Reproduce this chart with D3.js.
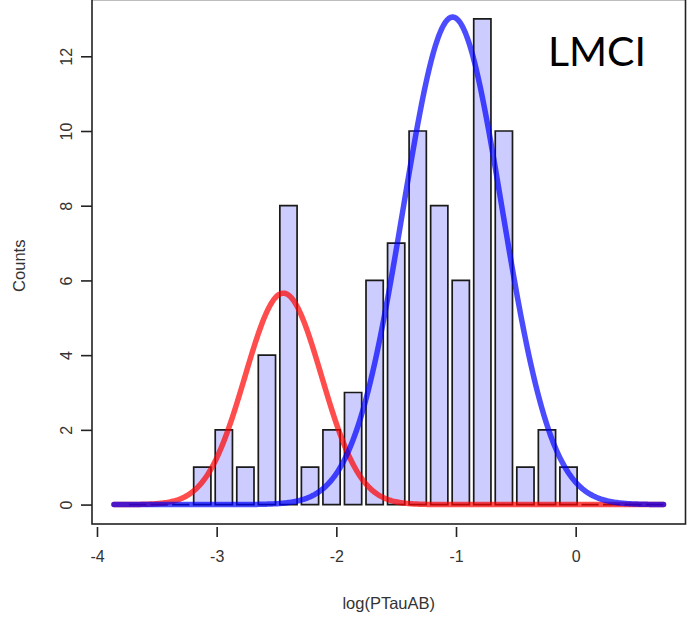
<!DOCTYPE html>
<html>
<head>
<meta charset="utf-8">
<script src="https://cdn.jsdelivr.net/npm/d3@7"></script>
<style>
  html, body { margin: 0; padding: 0; background: #fff; }
  svg { display: block; }
</style>
</head>
<body>
<svg id="chart" width="696" height="627"></svg>
<script>
// Histogram bins of log(PTauAB): bin centres and counts
const binCenters = [-3.66, -3.48, -3.30, -3.12, -2.94, -2.76, -2.58, -2.40, -2.22,
                    -2.04, -1.86, -1.68, -1.50, -1.32, -1.14, -0.96, -0.78, -0.60,
                    -0.42, -0.24, -0.06, 0.12, 0.30, 0.48, 0.66];
const binCounts  = [0, 0, 0, 1, 2, 1, 4, 8, 1,
                    2, 3, 6, 7, 10, 8, 6, 13, 10,
                    1, 2, 1, 0, 0, 0, 0];
const binWidth = 0.18;

// Fitted Gaussian mixture components (scaled to counts)
const componentNames  = ["low", "high"];
const componentMeans  = [-2.443, -1.028];
const componentSDs    = [0.32, 0.414];
const componentPeaks  = [5.66, 13.05];
const componentColors = ["rgba(255,0,0,0.7)", "rgba(0,0,255,0.7)"];

// Data range of the sample (curves are drawn over it)
const dataRange = [-3.858, 0.734];

// Axis ticks
const xTicks = [-4, -3, -2, -1, 0];
const yTicks = [0, 2, 4, 6, 8, 10, 12];

const groupLabel = "LMCI";
const xTitle = "log(PTauAB)";
const yTitle = "Counts";

const svg = d3.select("#chart");
const plot = { left: 92, right: 685.5, top: -0.5, bottom: 524 };
const labelFont = "'Liberation Sans', Arial, sans-serif";

// R-style 4% padding on both axes
const xPad = (dataRange[1] - dataRange[0]) * 0.04;
const x = d3.scaleLinear()
  .domain([dataRange[0] - xPad, dataRange[1] + xPad])
  .range([plot.left, plot.right]);
const yMax = d3.max(binCounts);
const y = d3.scaleLinear()
  .domain([-yMax * 0.04, yMax * 1.04])
  .range([plot.bottom, plot.top]);

// Bars (drawn as closed paths so empty bins still show their outline)
const barW = binWidth * 0.8;
svg.append("g")
  .selectAll("path")
  .data(binCenters.map((c, i) => ({ c, n: binCounts[i] })))
  .join("path")
  .attr("d", d => {
    const x0 = x(d.c - barW / 2), x1 = x(d.c + barW / 2);
    const y0 = y(0), y1 = y(d.n);
    return `M${x0},${y0}V${y1}H${x1}V${y0}Z`;
  })
  .attr("fill", "#ccccff")
  .attr("stroke", "#1a1a1a")
  .attr("stroke-width", 1.7);

// Mixture component curves
const xs = d3.range(0, 401).map(i => dataRange[0] + (dataRange[1] - dataRange[0]) * i / 400);
const line = d3.line().x(d => x(d[0])).y(d => y(d[1]));
componentNames.forEach((name, k) => {
  const pts = xs.map(v => {
    const z = (v - componentMeans[k]) / componentSDs[k];
    return [v, componentPeaks[k] * Math.exp(-0.5 * z * z)];
  });
  svg.append("path")
    .attr("class", "curve-" + name)
    .attr("d", line(pts))
    .attr("fill", "none")
    .attr("stroke", componentColors[k])
    .attr("stroke-width", 5.5)
    .attr("stroke-linejoin", "round")
    .attr("stroke-linecap", "round");
});

// Plot frame
svg.append("rect")
  .attr("x", plot.left).attr("y", plot.top)
  .attr("width", plot.right - plot.left)
  .attr("height", plot.bottom - plot.top)
  .attr("fill", "none")
  .attr("stroke", "#222")
  .attr("stroke-width", 1.6);

// X axis: ticks hang just below the frame
const xAxisG = svg.append("g").attr("transform", `translate(0,${plot.bottom + 3})`);
xAxisG.call(d3.axisBottom(x).tickValues(xTicks).tickSize(10).tickPadding(14));
xAxisG.select(".domain").remove();
xAxisG.selectAll(".tick line").attr("stroke", "#222").attr("stroke-width", 1.6);
xAxisG.selectAll(".tick text")
  .attr("fill", "#333")
  .style("font-family", labelFont)
  .style("font-size", "16px")
  .text(d => d < 0 ? "-" + Math.abs(d) : d);

// Y axis: labels parallel to the axis
const yAxisG = svg.append("g").attr("transform", `translate(${plot.left},0)`);
yAxisG.call(d3.axisLeft(y).tickValues(yTicks).tickSize(11));
yAxisG.select(".domain").remove();
yAxisG.selectAll(".tick line").attr("stroke", "#222").attr("stroke-width", 1.6);
yAxisG.selectAll(".tick text").remove();
yAxisG.selectAll(".tick")
  .append("text")
  .attr("transform", "translate(-26,0) rotate(-90)")
  .attr("text-anchor", "middle")
  .attr("dy", "0.35em")
  .attr("fill", "#333")
  .style("font-family", labelFont)
  .style("font-size", "16px")
  .text(d => d);

// Axis titles
svg.append("text")
  .attr("x", (plot.left + plot.right) / 2)
  .attr("y", 609)
  .attr("text-anchor", "middle")
  .attr("fill", "#333")
  .style("font-family", labelFont)
  .style("font-size", "16.5px")
  .text(xTitle);

svg.append("text")
  .attr("transform", `translate(25,${(plot.top + plot.bottom) / 2 + 4}) rotate(-90)`)
  .attr("text-anchor", "middle")
  .attr("fill", "#333")
  .style("font-family", labelFont)
  .style("font-size", "16.5px")
  .text(yTitle);

// Group label
svg.append("text")
  .attr("x", 548)
  .attr("y", 66)
  .attr("fill", "#000")
  .style("font-family", "Lato, 'Open Sans', sans-serif")
  .style("font-weight", 400)
  .style("font-size", "41px")
  .text(groupLabel);
</script>
</body>
</html>
